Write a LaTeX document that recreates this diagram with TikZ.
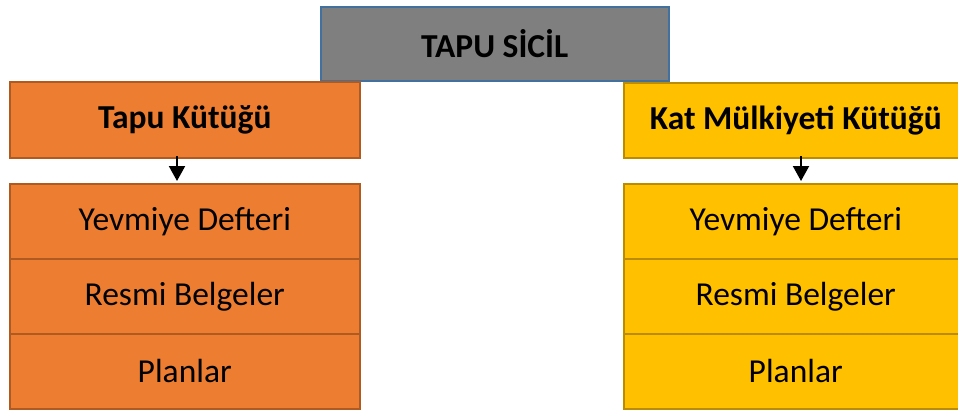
\documentclass[tikz,border=0pt]{standalone}
\usepackage{fontspec}
\setmainfont{Carlito}
\usetikzlibrary{arrows.meta}
\definecolor{grayfill}{HTML}{7F7F7F}
\definecolor{grayedge}{HTML}{41719C}
\definecolor{orangefill}{HTML}{ED7D31}
\definecolor{orangeedge}{HTML}{AE5A21}
\definecolor{yellowfill}{HTML}{FFC000}
\definecolor{yellowedge}{HTML}{BC8C00}
\tikzset{
  box/.style={draw, line width=1.5pt, inner sep=0pt, anchor=north west,
    font=\fontsize{33.5}{40}\selectfont},
  head/.style={box, font=\fontsize{33.5}{40}\selectfont\bfseries},
  titlebox/.style={head, fill=grayfill, draw=grayedge, minimum width=348pt, minimum height=74pt},
  orangehead/.style={head, fill=orangefill, draw=orangeedge, minimum width=350pt, minimum height=76pt},
  yellowhead/.style={head, fill=yellowfill, draw=yellowedge, minimum width=344pt, minimum height=75pt},
  orangerow/.style={box, fill=orangefill, draw=orangeedge, minimum width=350pt, minimum height=75pt},
  yellowrow/.style={box, fill=yellowfill, draw=yellowedge, minimum width=344pt, minimum height=75pt},
  link/.style={line width=2pt, -{Triangle[width=16pt,length=15pt]}}
}
\begin{document}
\begin{tikzpicture}[x=1pt,y=-1pt]
  \useasboundingbox (0,0) rectangle (958,410);
  \clip (0,0) rectangle (958,410);

  % title
  \node[titlebox] (sicil) at (320,6) {TAPU SİCİL};

  % left column
  \node[orangehead] (tk) at (9,81) {Tapu Kütüğü};
  \node[orangerow] (tk1) at (9,183) {Yevmiye Defteri};
  \node[orangerow] (tk2) at (9,258) {Resmi Belgeler};
  \node[orangerow] (tk3) at (9,333) {Planlar};

  % right column
  \node[yellowhead] (km) at (623,82) {Kat Mülkiyeti Kütüğü};
  \node[yellowrow] (km1) at (623,183) {Yevmiye Defteri};
  \node[yellowrow] (km2) at (623,258) {Resmi Belgeler};
  \node[yellowrow] (km3) at (623,333) {Planlar};

  % connectors
  \coordinate (ta) at (177,156);
  \coordinate (tb) at (177,181);
  \coordinate (ka) at (801,156);
  \coordinate (kb) at (801,181);
  \draw[link] (ta) -- (tb);
  \draw[link] (ka) -- (kb);
\end{tikzpicture}
\end{document}
